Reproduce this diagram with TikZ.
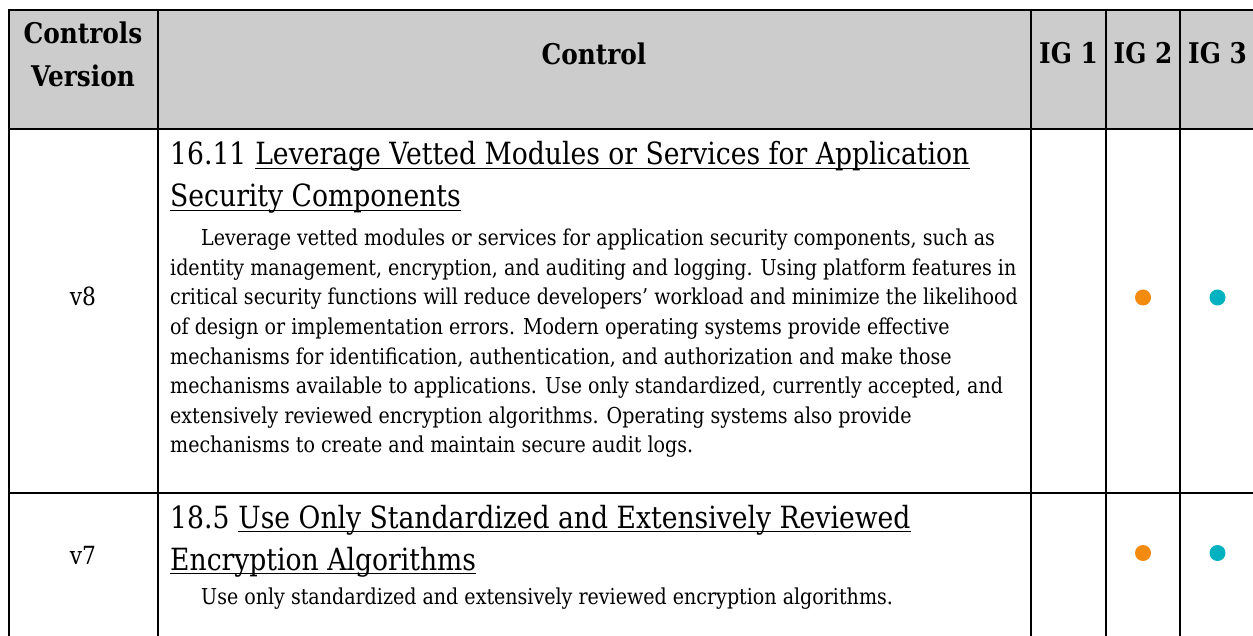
\documentclass[tikz,border=0pt]{standalone}
\usepackage{fontspec}
\setmainfont{DejaVu Serif}[FakeStretch=0.87]
\definecolor{hdrgray}{HTML}{CCCCCC}
\definecolor{igorange}{HTML}{F28B0F}
\definecolor{igcyan}{HTML}{00B2C0}
\tikzset{
  gridline/.style={line width=2pt, black},
  hdrtext/.style={anchor=base, inner sep=0, font=\bfseries\fontsize{28.5}{33}\selectfont},
  vertext/.style={anchor=base, inner sep=0, font=\fontsize{25}{29}\selectfont},
  titletext/.style={anchor=base west, inner sep=0, font=\fontsize{30.6}{36}\selectfont},
  bodytext/.style={anchor=base west, inner sep=0, font=\fontsize{21.9}{26}\selectfont},
  uline/.style={line width=1.6pt, black},
  igdot/.style={circle, inner sep=0, minimum size=16pt},
}
\begin{document}
\begin{tikzpicture}[x=1pt,y=-1pt]
\useasboundingbox (0,0) rectangle (1253,636);
\clip (0,0) rectangle (1253,636);
% header background
\fill[hdrgray] (9,10) rectangle (1262,129);
% grid
\draw[gridline] (9,10) -- (1262,10);
\draw[gridline] (9,129) -- (1262,129);
\draw[gridline] (9,493) -- (1262,493);
\foreach \xx in {9,157.5,1031,1106,1180} {
  \draw[gridline] (\xx,9) -- (\xx,640);
}
% header
\node[hdrtext] (hc1) at (83,44) {Controls};
\node[hdrtext] (hc2) at (83,87) {Version};
\node[hdrtext] (hctl) at (594,65) {Control};
\node[hdrtext] (hig1) at (1068.5,64) {IG 1};
\node[hdrtext] (hig2) at (1143,64) {IG 2};
\node[hdrtext] (hig3) at (1217.5,64) {IG 3};
% row 1
\node[vertext] (v8) at (83,306) {v8};
\node[titletext] (n11) at (170,165) {16.11};
\node[titletext] (t11) at ([xshift=8.5pt]n11.base east) {Leverage Vetted Modules or Services for Application};
\node[titletext] (t12) at (170,207) {Security Components};
\draw[uline] ([yshift=-3.5pt]t11.base west) -- ([yshift=-3.5pt]t11.base east);
\draw[uline] ([yshift=-3.5pt]t12.base west) -- ([yshift=-3.5pt]t12.base east);
\node[bodytext] (b1) at (201,246) {Leverage vetted modules or services for application security components, such as};
\node[bodytext] (b2) at (170,275.5) {identity management, encryption, and auditing and logging. Using platform features in};
\node[bodytext] (b3) at (170,305) {critical security functions will reduce developers’ workload and minimize the likelihood};
\node[bodytext] (b4) at (170,334.5) {of design or implementation errors. Modern operating systems provide effective};
\node[bodytext] (b5) at (170,364) {mechanisms for identification, authentication, and authorization and make those};
\node[bodytext] (b6) at (170,393.5) {mechanisms available to applications. Use only standardized, currently accepted, and};
\node[bodytext] (b7) at (170,423) {extensively reviewed encryption algorithms. Operating systems also provide};
\node[bodytext] (b8) at (170,452.5) {mechanisms to create and maintain secure audit logs.};
\node[igdot, fill=igorange] (d12) at (1143,297.5) {};
\node[igdot, fill=igcyan] (d13) at (1217.5,297.5) {};
% row 2
\node[vertext] (v7) at (83,564) {v7};
\node[titletext] (n21) at (170,528) {18.5};
\node[titletext] (t21) at ([xshift=8.5pt]n21.base east) {Use Only Standardized and Extensively Reviewed};
\node[titletext] (t22) at (170,570) {Encryption Algorithms};
\draw[uline] ([yshift=-3.5pt]t21.base west) -- ([yshift=-3.5pt]t21.base east);
\draw[uline] ([yshift=-3.5pt]t22.base west) -- ([yshift=-3.5pt]t22.base east);
\node[bodytext] (c1) at (201,604) {Use only standardized and extensively reviewed encryption algorithms.};
\node[igdot, fill=igorange] (d22) at (1143,553) {};
\node[igdot, fill=igcyan] (d23) at (1217.5,553) {};
\end{tikzpicture}
\end{document}
